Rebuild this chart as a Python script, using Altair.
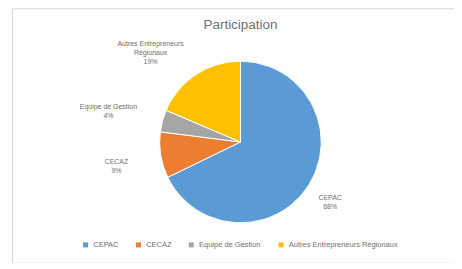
import altair as alt
import pandas as pd

categories = ["CEPAC", "CECAZ", "Equipe de Gestion", "Autres Entrepreneurs Régionaux"]
values = [67.8, 9.2, 4.4, 18.6]
label_lines = [["CEPAC", "68%"], ["CECAZ", "9%"], ["Equipe de Gestion", "4%"],
               ["Autres Entrepreneurs", "Régionaux", "19%"]]
colors = ["#5B9BD5", "#ED7D31", "#A5A5A5", "#FFC000"]

df = pd.DataFrame({
    "cat": categories,
    "val": values,
    "order": list(range(len(categories))),
    "label": label_lines,
})

W, H = 443, 255
cx, cy = 229, 134

base = alt.Chart(df).encode(
    theta=alt.Theta("val:Q", stack=True),
    order=alt.Order("order:Q"),
)

pie = base.mark_arc(outerRadius=81, stroke="white", strokeWidth=1).encode(
    x=alt.value(cx), y=alt.value(cy),
    color=alt.Color("cat:N", scale=alt.Scale(domain=categories, range=colors),
                    legend=alt.Legend(title=None, orient="none", legendX=70, legendY=233,
                                      direction="horizontal", symbolType="square",
                                      symbolSize=25, labelFontSize=7.5, labelColor="#6f6f6f",
                                      labelFont="Liberation Sans", columnPadding=16,
                                      symbolStrokeWidth=0)),
)

txt_style = dict(fontSize=7, font="Liberation Sans", color="#6f6f6f", lineHeight=9)

# label placement (outside-end, Excel "best fit" look): radius and horizontal nudge per slice
placement = [(106, 0), (126, 0), (134, -3), (118, -25)]

label_layers = []
for i, (r, dx) in enumerate(placement):
    label_layers.append(
        base.mark_text(radius=r, dx=dx, align="center", **txt_style).encode(
            x=alt.value(cx), y=alt.value(cy),
            text=alt.condition(f"datum.order == {i}", alt.Text("label:N"), alt.value("")),
        )
    )

title = alt.Chart(pd.DataFrame({"t": ["Participation"]})).mark_text(
    fontSize=13.5, font="Liberation Sans", color="#6f6f6f"
).encode(x=alt.value(cx), y=alt.value(17), text="t:N")

chart = alt.layer(pie, *label_layers, title).properties(
    width=W, height=H, padding={"left": 4, "top": 0, "right": 0, "bottom": 0}
).configure_view(stroke="#d9d9d9", strokeWidth=1)

chart.save("out.html", embed_options={"renderer": "svg", "actions": False})
